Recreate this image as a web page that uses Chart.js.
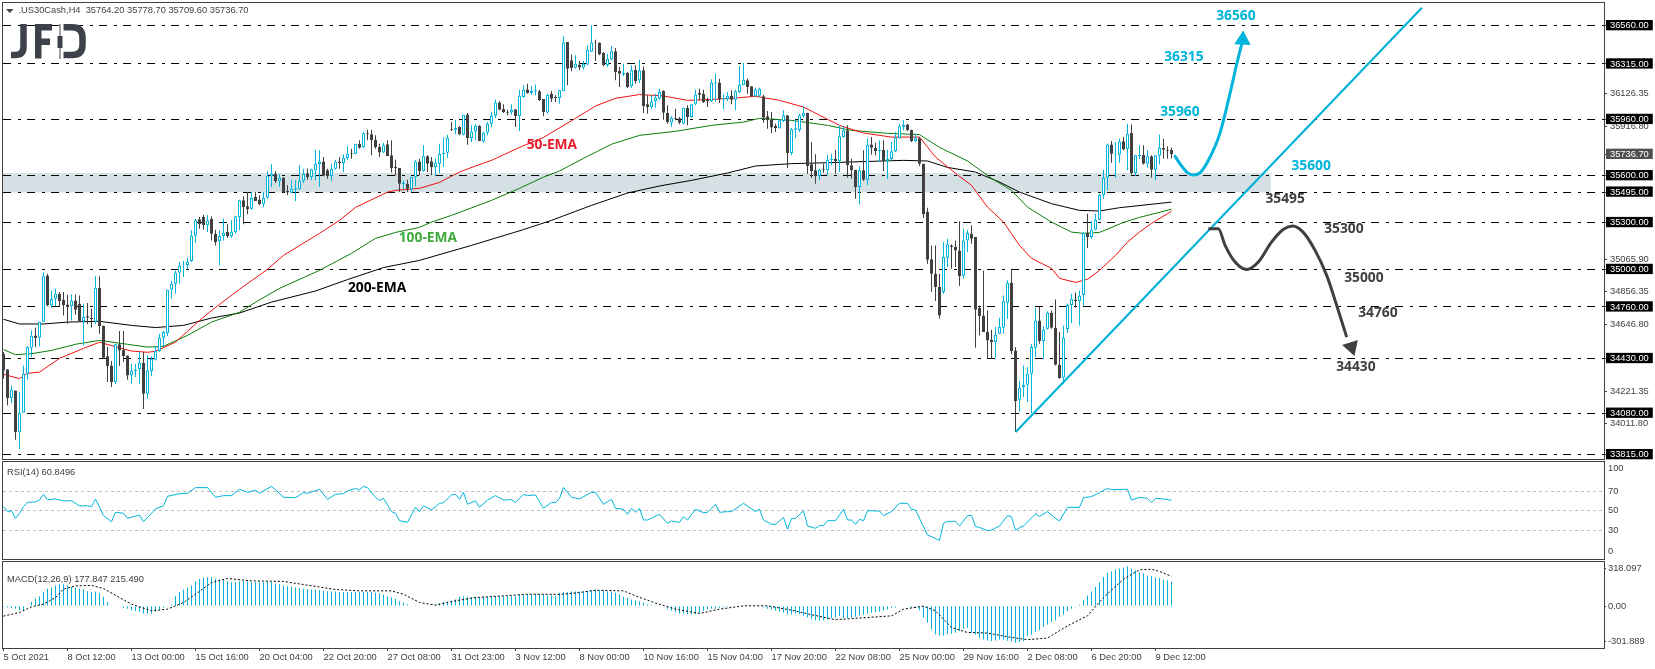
<!DOCTYPE html>
<html><head><meta charset="utf-8">
<script src="https://cdn.jsdelivr.net/npm/chart.js@4"></script>
<style>html,body{margin:0;padding:0;background:#fff;overflow:hidden;width:1655px;height:669px}canvas{position:absolute;left:0;display:block}</style>
</head><body>
<canvas id="price" width="1655" height="460" style="top:0;width:1655px;height:460px"></canvas>
<canvas id="rsi" width="1655" height="100" style="top:460px;width:1655px;height:100px"></canvas>
<canvas id="macd" width="1655" height="109" style="top:560px;width:1655px;height:109px"></canvas>
<script>
const open=[34461,34361,34177,34226,33960,34083,34333,34499,34578,34563,
34666,34962,34770,34813,34845,34806,34776,34764,34802,34781,
34668,34700,34691,34666,34883,34640,34444,34386,34279,34521,
34486,34450,34322,34350,34361,34403,34205,34350,34422,34478,
34563,34593,34870,34909,34979,35028,35028,35054,35216,35321,
35336,35282,35325,35229,35182,35214,35240,35212,35240,35336,
35442,35404,35389,35464,35446,35417,35459,35596,35613,35564,
35587,35504,35491,35510,35513,35568,35615,35591,35634,35675,
35690,35634,35598,35645,35690,35681,35713,35743,35741,35805,
35783,35871,35865,35830,35783,35749,35801,35730,35656,35649,
35545,35549,35513,35591,35690,35628,35724,35692,35656,35677,
35737,35747,35897,35894,35911,35862,35992,35841,35882,35920,
35820,35875,35933,35984,36069,36027,36007,36005,36025,35982,
36103,36152,36129,36138,36140,36091,36005,36125,36103,36097,
36142,36455,36338,36291,36310,36293,36312,36393,36453,36453,
36387,36308,36344,36396,36270,36248,36257,36172,36276,36210,
36274,36057,36039,36076,36093,36142,36003,35939,35971,35967,
35933,36033,35975,36057,36131,36125,36086,36078,36195,36197,
36088,36091,36112,36086,36135,36180,36210,36172,36108,36112,
36108,35980,35958,35918,35905,35950,35986,35745,35894,35892,
35982,36003,35673,35634,35598,35641,35634,35700,35709,35694,
35847,35890,35666,35638,35527,35634,35574,35800,35779,35758,
35766,35694,35707,35756,35841,35911,35928,35894,35820,35839,
35677,35367,35065,34973,34888,34856,35075,35154,35144,35122,
34960,35186,35229,35207,34753,34706,34599,34550,34535,34589,
34627,34787,34915,34482,34166,34247,34262,34333,34499,34674,
34542,34621,34723,34627,34390,34307,34619,34772,34808,34798,
34836,35235,35207,35254,35318,35474,35587,35800,35736,35734,
35820,35771,35873,35617,35726,35734,35677,35724,35638,35728,
35779,35766,35764.2];
const high=[34471,34361,34258,34226,34215,34386,34508,34610,34627,34666,
34981,34973,34866,34877,34855,34855,34840,34840,34840,34834,
34781,34785,34749,34956,34956,34640,34503,34414,34525,34606,
34606,34450,34397,34397,34471,34471,34450,34444,34508,34589,
34606,34870,34926,34994,35047,35054,35075,35250,35325,35336,
35350,35346,35340,35254,35250,35325,35289,35314,35340,35446,
35468,35496,35496,35496,35474,35496,35628,35673,35628,35609,
35591,35538,35570,35570,35666,35645,35645,35645,35766,35762,
35719,35645,35677,35702,35719,35737,35788,35773,35805,35826,
35879,35894,35894,35858,35805,35809,35826,35826,35702,35649,
35570,35574,35591,35698,35709,35794,35730,35719,35709,35805,
35847,35862,35943,35958,35916,35990,36001,35922,35929,35922,
35879,35943,36007,36088,36078,36057,36022,36057,36025,36150,
36178,36189,36172,36184,36150,36091,36125,36142,36114,36150,
36492,36455,36376,36370,36334,36334,36434,36562,36470,36453,
36391,36381,36430,36417,36295,36317,36263,36306,36306,36342,
36300,36114,36114,36125,36157,36146,36050,35980,36029,35975,
36035,36050,36057,36152,36157,36150,36099,36217,36253,36221,
36120,36135,36146,36150,36302,36321,36221,36172,36163,36163,
36118,36014,36007,35933,35958,36018,35986,35905,35958,35997,
36039,36003,35815,35737,35645,35677,35730,35741,35766,35922,
35916,35922,35709,35638,35660,35762,35837,35847,35809,35826,
35826,35766,35815,35879,35933,35954,35933,35894,35869,35847,
35677,35395,35154,35154,34973,35175,35197,35161,35186,35308,
35261,35250,35282,35207,34759,34994,34738,34614,34631,34691,
34834,34930,35005,34503,34286,34386,34375,34525,34753,34759,
34636,34732,34738,34808,34599,34642,34781,34845,34853,34866,
35239,35357,35310,35357,35485,35638,35805,35822,35815,35837,
35847,35933,35928,35734,35794,35794,35762,35730,35730,35864,
35837,35788,35778.7];
const low=[34301,34130,34145,33910,33851,34083,34294,34439,34503,34508,
34666,34764,34755,34764,34759,34706,34653,34674,34710,34668,
34514,34649,34627,34653,34589,34429,34279,34247,34265,34382,
34407,34294,34269,34311,34269,34107,34173,34316,34418,34471,
34503,34572,34813,34845,34909,34951,35005,35047,35169,35261,
35254,35240,35186,35154,35026,35186,35203,35203,35229,35250,
35289,35353,35382,35438,35410,35400,35453,35527,35553,35527,
35491,35474,35489,35438,35510,35553,35574,35570,35570,35527,
35596,35581,35566,35638,35645,35624,35702,35709,35737,35773,
35779,35826,35730,35773,35719,35745,35726,35621,35602,35496,
35517,35496,35496,35532,35602,35624,35624,35602,35598,35617,
35656,35713,35886,35865,35858,35858,35798,35815,35826,35820,
35811,35858,35911,35969,36018,36001,35986,35992,35911,35886,
36099,36125,36118,36114,36078,35980,35997,36071,36071,36061,
36142,36178,36268,36285,36274,36280,36306,36391,36334,36370,
36300,36295,36338,36210,36167,36236,36161,36163,36189,36193,
36001,35997,36029,36035,36086,35958,35933,35911,35954,35929,
35929,35922,35971,36050,36082,36065,36039,36071,36071,36065,
36025,36078,36057,36018,36129,36178,36125,36103,36103,36103,
35939,35901,35873,35879,35901,35943,35649,35730,35839,35879,
35971,35613,35585,35549,35570,35619,35602,35666,35613,35623,
35843,35587,35581,35453,35416,35566,35538,35736,35730,35687,
35628,35579,35698,35751,35837,35890,35886,35815,35815,35664,
35329,35037,34856,34798,34685,34845,35015,35005,35015,34894,
34941,35111,35165,34499,34578,34599,34429,34429,34435,34585,
34589,34685,34457,33960,34092,34184,34152,34081,34439,34525,
34429,34614,34621,34386,34301,34265,34593,34657,34755,34642,
34770,35137,35197,35250,35314,35453,35506,35683,35587,35683,
35762,35634,35608,35596,35709,35672,35651,35587,35570,35672,
35709,35709,35709.6];
const close=[34354,34177,34230,33960,34083,34333,34503,34576,34561,34666,
34956,34770,34813,34845,34798,34772,34759,34800,34742,34668,
34695,34691,34683,34883,34638,34435,34380,34279,34521,34482,
34446,34322,34354,34358,34403,34205,34354,34427,34478,34563,
34599,34870,34909,34981,35024,35032,35050,35216,35314,35289,
35282,35314,35229,35176,35214,35235,35212,35242,35340,35442,
35400,35387,35459,35438,35417,35459,35600,35613,35564,35587,
35496,35493,35517,35519,35568,35613,35591,35641,35677,35690,
35600,35598,35645,35690,35681,35715,35741,35737,35805,35779,
35871,35865,35826,35783,35749,35794,35726,35649,35647,35549,
35553,35517,35591,35690,35628,35724,35677,35656,35685,35741,
35747,35843,35890,35907,35865,35990,35841,35882,35920,35822,
35875,35933,35984,36069,36022,36007,36003,36022,35982,36112,
36150,36129,36142,36146,36082,36007,36118,36093,36097,36146,
36453,36285,36289,36317,36293,36317,36406,36453,36449,36376,
36306,36349,36396,36263,36253,36257,36167,36274,36204,36274,
36046,36039,36074,36099,36135,36003,35943,35971,35965,35939,
36035,35975,36057,36120,36118,36071,36076,36197,36199,36088,
36095,36112,36086,36140,36184,36214,36167,36108,36152,36157,
35971,35954,35909,35905,35954,35986,35745,35897,35903,35986,
36003,35662,35630,35598,35638,35634,35702,35707,35692,35852,
35890,35666,35634,35527,35634,35574,35798,35779,35758,35766,
35694,35707,35756,35845,35916,35926,35890,35822,35839,35677,
35353,35062,34973,34888,34706,35080,35161,35144,35122,34956,
35186,35233,35197,34742,34702,34599,34546,34535,34582,34631,
34796,34915,34478,34158,34243,34262,34333,34503,34674,34542,
34614,34723,34627,34390,34305,34563,34772,34813,34798,34832,
35235,35207,35254,35318,35480,35587,35800,35741,35741,35818,
35768,35869,35617,35730,35734,35677,35724,35638,35730,35779,
35766,35760,35736.7];

const ema50Bars=[0,4,6,9,14,20,24,32,36,38,43,49,53,59,66,70,79,84,88,96,98,104,109,114,118,122,129,135,143,148,153,159,165,171,177,182,188,194,200,206,209,215,222,229,233,238,242,246,250,254,257,262,264,268,271,274,278,281,284,287,292];
const ema50=[34329,34301,34335,34343,34431,34495,34534,34478,34470,34476,34535,34674,34757,34873,35001,35090,35231,35314,35397,35495,35506,35519,35557,35623,35662,35698,35781,35845,35967,36046,36095,36119,36110,36082,36088,36095,36108,36082,36039,35961,35922,35873,35847,35847,35719,35615,35538,35399,35303,35154,35071,35007,34943,34917,34937,34994,35090,35175,35239,35295,35372];
const ema100Bars=[0,3,7,12,18,24,31,36,40,46,52,59,63,69,79,87,93,98,104,107,112,122,129,135,139,145,152,159,168,177,185,189,197,206,212,221,229,234,241,247,252,256,262,267,270,274,280,284,292];
const ema100=[34487,34455,34461,34482,34521,34546,34521,34503,34508,34578,34663,34726,34790,34879,34994,35103,35199,35237,35269,35303,35346,35442,35519,35591,35630,35711,35801,35858,35884,35922,35943,35967,35954,35922,35890,35871,35863,35781,35694,35583,35506,35399,35303,35239,35231,35237,35301,35333,35385];
const ema200Bars=[0,4,10,16,24,32,38,45,52,59,67,78,86,95,104,117,130,137,147,156,164,172,181,188,197,206,225,231,236,243,249,254,262,269,274,279,292];
const ema200=[34681,34651,34651,34663,34668,34642,34628,34642,34689,34721,34791,34862,34935,35012,35058,35154,35255,35314,35410,35489,35534,35570,35617,35662,35677,35683,35698,35694,35653,35623,35559,35495,35421,35378,35374,35395,35431];

const rsiBars=[0,1,2,3,4,5,6,8,9,10,11,13,15,17,19,21,22,23,25,27,28,30,31,34,35,37,38,40,41,44,46,48,51,53,55,57,59,61,63,64,67,68,70,73,75,76,79,81,83,85,86,88,89,90,91,93,94,95,97,98,99,101,103,104,105,107,109,110,112,113,114,115,116,118,119,121,123,125,127,128,130,131,133,135,137,138,139,140,142,144,147,148,150,152,153,155,156,157,158,159,160,161,164,166,167,169,170,171,173,175,176,178,179,181,182,185,188,189,190,192,193,195,196,197,198,200,201,203,204,205,206,208,210,211,212,213,214,215,216,219,220,222,224,226,227,228,231,232,234,235,236,238,239,241,242,243,244,246,247,249,251,252,253,254,255,258,259,261,263,264,266,269,270,272,274,276,277,281,282,284,286,287,288,290,292];
const rsiValues=[54.3,49.2,50.2,42.3,47.5,54.3,58.7,59.1,61.1,66.9,61.5,62.2,60.1,60.4,55,55.3,54.3,62.2,45.1,38.9,48.5,47.5,42.3,45.7,38.9,47.5,51.9,55.3,64.9,67.6,68,73.8,73.8,63.9,65.6,65.6,72.1,69,71,68,75.1,71.7,63.9,63.5,68.7,68,72.1,61.8,66.9,67.6,70.4,73.1,71.4,75.1,73.8,63.9,60.4,62.8,49.2,47.5,39.9,38.2,53.6,49.2,55.3,50.9,57.7,58.4,66.3,66.9,61.8,69,56.7,60.4,53.6,61.1,65.6,61.1,61.5,58.7,66.9,65.6,66.3,52.6,58.7,58.4,62.8,74.1,63.9,62.2,69,69,56.7,61.8,52.6,51.6,46.4,52.6,48.5,52.6,40.6,40.6,46.4,37.2,39.6,38.2,44,40.6,51.6,48.1,48.5,56.7,48.5,49.2,49.2,57.7,49.2,51.6,40.6,36.2,36.2,43.3,31,42.3,42.3,49.8,34.5,32.1,34.8,34.8,39.9,39.9,51.6,40.6,40.6,36.2,41.3,39.9,50.2,49.8,45.1,49.2,57.7,57.7,51.6,50.9,25.2,23.5,19.7,37.2,39.2,39.2,34.5,45.1,45.4,33.8,33.1,29.7,30.3,34.5,45.1,44,30,32.7,34.5,46.8,44.4,49.2,42.3,39.6,53.6,53.6,63.5,64.6,68.7,73.1,71.7,72.1,61.1,63.9,62.8,58.7,62.8,62.2,60.85];

const macdHist=[-7,-10,-14,-19,-29,-34,5,29,53,72,101,125,134,149,158,158,149,139,132,125,120,108,101,106,96,67,29,7,5,0,-12,-19,-29,-36,-43,-53,-55,-53,-38,-24,-12,0,12,72,101,120,132,149,180,197,204,209,209,197,192,187,180,173,173,178,182,178,173,173,173,173,178,173,163,158,149,144,139,134,130,125,120,120,120,115,110,108,106,106,101,101,101,101,101,101,101,101,101,96,91,82,72,62,53,36,24,14,5,2,2,0,5,5,10,19,29,34,38,48,67,72,67,65,67,62,67,67,72,72,72,72,72,72,72,82,82,86,86,86,86,82,77,77,72,
96,101,101,106,106,108,108,110,115,120,115,113,108,106,96,84,67,58,48,43,34,24,14,10,7,5,-2,-19,-34,-43,-53,-53,-58,-58,-58,-48,-34,-24,-19,-19,-12,-10,-7,-5,-2,0,0,0,0,0,-5,-10,-19,-24,-34,-38,-48,-58,-58,-53,-58,-67,-82,-91,-101,-106,-101,-96,-86,-82,-72,-86,-86,-82,-77,-67,-62,-53,-48,-43,-38,-34,-24,-14,-10,-5,-2,-5,-10,-14,-29,-84,-120,-168,-204,-211,-211,-202,-197,-192,-178,-163,-156,-192,-204,-228,-240,-247,-252,-247,-240,-240,-250,-254,-264,-259,-252,-216,-204,-187,-173,-149,-132,-115,-101,-77,-60,-36,-19,-5,10,43,77,106,139,173,211,240,250,264,271,276,288,269,259,245,235,221,216,206,202,192,187,178];
const signalBars=[0,4,7,10,13,15,18,22,25,29,32,37,41,45,48,52,56,62,70,76,83,89,97,100,104,108,113,118,124,131,139,144,148,155,158,163,168,174,179,185,191,197,202,208,216,222,225,230,233,237,241,246,251,256,261,266,271,275,280,284,287,289,292];
const signalValues=[-72,-46,-5,14,62,122,146,149,127,62,14,-34,-22,26,86,170,199,182,178,151,120,110,110,86,26,7,38,62,72,86,84,98,115,110,74,22,-22,-53,-22,2,2,-29,-62,-98,-82,-70,-22,0,-34,-154,-190,-194,-221,-242,-230,-142,-70,62,194,262,266,250,215];

const levels=[36560,36315,35960,35600,35495,35300,35000,34760,34430,34080,33815];
const scaleTicks=[36126.35,35916.80,35065.90,34856.35,34646.80,34221.35,34011.80];
const lastPrice=35736.70;
const timeLabels=["5 Oct 2021","8 Oct 12:00","13 Oct 00:00","15 Oct 16:00","20 Oct 04:00","22 Oct 20:00","27 Oct 08:00","31 Oct 23:00","3 Nov 12:00","8 Nov 00:00","10 Nov 16:00","15 Nov 04:00","17 Nov 20:00","22 Nov 08:00","25 Nov 00:00","29 Nov 16:00","2 Dec 08:00","6 Dec 20:00","9 Dec 12:00"];
const timeLabelStep=16;
const rsiLevels=[70,50,30];
const rsiTickAt=[94,70,50,30,8];
const rsiTickText=["100","70","50","30","0"];
const macdTickAt=[272.7,0,-256.5];
const macdTickText=["318.097","0.00","-301.889"];
const zoneTop=35617, zoneBottom=35493, zoneEndBar=316.8;
const trendBars=[253.05,354.6], trendPrices=[33960,36675];
const upBars=[292.9,294.4,295.9,297.4,299.1,301.1,304.1,307,308.4,309.6];
const upPrices=[35724,35666,35621,35604,35618,35692,35871,36167,36325,36447];
const upTipBar=[309.8], upTipPrice=[36469];
const downBars=[301.2,303.7,305.4,307.9,310.8,313.7,317,320,322.3,324.9,327.9,330.8,333.3,335.8];
const downPrices=[35261,35261,35154,35047,34999,35047,35175,35257,35278,35239,35122,34962,34770,34567];
const downTipBar=[337], downTipPrice=[34504];
const CYAN='#00b4dc', DARK='#404040', GREY='#404040';
const labelNotes=[
 ["36560",308.1,36620,CYAN],["36315",295.1,36360,CYAN],["35960",294.1,36005,CYAN],["35600",326.9,35660,CYAN],
 ["35495",320.4,35449,DARK],["35300",335.1,35257,DARK],["35000",340.1,34945,DARK],["34760",343.6,34721,DARK],["34430",338.1,34374,DARK],
 ["50-EMA",137.1,35794,'#e81c2e'],["100-EMA",106.1,35202,'#3cab3c'],["200-EMA",93.4,34879,'#000000']
];

const X_MIN=-0.125, X_MAX=400.125;
const tickFont={family:'"Liberation Sans"',size:9.3,lineHeight:1};
const pairs=(xs,ys)=>xs.map((x,i)=>({x,y:ys[i]}));
const bars=open.map((_,i)=>i);
const isUp=i=>close[i]>=open[i];
const candleColor=bars.map(i=>isUp(i)?CYAN:DARK);
const bodyFill=bars.map(i=>isUp(i)?'#ffffff':DARK);

function frame(chart){
  const a=chart.chartArea,c=chart.ctx;
  c.save();c.strokeStyle='#404040';c.lineWidth=1;
  c.strokeRect(a.left-0.5,a.top-0.5,a.right-a.left+1,a.bottom-a.top+1);c.restore();
}
function label(chart,text,x,y){
  const c=chart.ctx;c.save();c.font='9.3px "Liberation Sans"';c.fillStyle=GREY;c.textBaseline='middle';c.textAlign='left';c.fillText(text,x,y);c.restore();
}
function fixAxis(s){
  s.paddingTop=0;s.paddingBottom=0;s.paddingLeft=0;s.paddingRight=0;
  if(s.axis==='y')s.width=51; else s.height=21;
}
const lineDs=(data,color,width,order,extra)=>Object.assign({type:'line',data,borderColor:color,borderWidth:width,pointRadius:0,order,tension:0},extra||{});

const common={responsive:false,animation:false,devicePixelRatio:1,events:[],plugins:{legend:{display:false},tooltip:{enabled:false}}};
const xHidden={type:'linear',display:false,min:X_MIN,max:X_MAX,offset:false,grid:{offset:false,display:false}};

new Chart(document.getElementById('price'),{
 type:'bar',
 data:{datasets:[
  lineDs(pairs(ema200Bars,ema200),'#000000',1,12),
  lineDs(pairs(ema100Bars,ema100),'#0a7d0a',1,11),
  lineDs(pairs(ema50Bars,ema50),'#f01010',1,10),
  {label:'wick',data:bars.map(i=>({x:i,y:[low[i],high[i]]})),backgroundColor:candleColor,borderWidth:0,grouped:false,barPercentage:1,maxBarThickness:1,inflateAmount:0,order:6},
  {label:'body',data:bars.map(i=>({x:i,y:[open[i],close[i]]})),backgroundColor:bodyFill,borderColor:candleColor,borderWidth:1,borderSkipped:false,grouped:false,barPercentage:1,maxBarThickness:3,inflateAmount:0,order:5},
  lineDs(pairs(trendBars,trendPrices),'#00b0d8',2.1,3),
  lineDs(pairs(upBars,upPrices),CYAN,3,2,{cubicInterpolationMode:'monotone',borderCapStyle:'round'}),
  lineDs(pairs(downBars,downPrices),DARK,3,2,{cubicInterpolationMode:'monotone',borderCapStyle:'butt'}),
  {type:'line',showLine:false,data:pairs(upTipBar,upTipPrice),pointStyle:'triangle',pointRadius:9.5,pointRotation:3,pointBackgroundColor:CYAN,pointBorderWidth:0,order:1},
  {type:'line',showLine:false,data:pairs(downTipBar,downTipPrice),pointStyle:'triangle',pointRadius:9.5,pointRotation:162,pointBackgroundColor:DARK,pointBorderWidth:0,order:1}
 ]},
 options:Object.assign({},common,{
  layout:{autoPadding:false,padding:{left:3,top:3,bottom:1,right:0}},
  scales:{
   x:xHidden,
   y:{position:'right',min:33787,max:36705,afterFit:fixAxis,
    afterBuildTicks:s=>{s.ticks=[...scaleTicks,lastPrice,...levels].map(value=>({value}))},
    border:{display:false,dash:[8,7,3,6]},
    grid:{color:c=>levels.includes(c.tick&&c.tick.value)?'#000000':'rgba(0,0,0,0)',tickColor:'#404040',tickLength:3,lineWidth:1},
    ticks:{autoSkip:false,padding:3,crossAlign:'near',font:tickFont,
     callback:v=>Number(v).toFixed(2),
     color:c=>(levels.includes(c.tick.value)||c.tick.value===lastPrice)?'#ffffff':GREY,
     showLabelBackdrop:c=>(levels.includes(c.tick.value)||c.tick.value===lastPrice),
     backdropColor:c=>c.tick.value===lastPrice?'#505050':'#000000',
     backdropPadding:{left:4,right:4,top:1,bottom:0}}
   }
  }
 }),
 plugins:[{
  id:'zone',
  beforeDraw(chart){
   const {x,y}=chart.scales,a=chart.chartArea,c=chart.ctx;
   const t=y.getPixelForValue(zoneTop),b=y.getPixelForValue(zoneBottom);
   c.save();c.fillStyle='#d4e0e3';c.fillRect(a.left,t,x.getPixelForValue(zoneEndBar)-a.left,b-t);c.restore();
  },
  afterDraw(chart){
   frame(chart);
   const {x,y}=chart.scales,c=chart.ctx;
   c.save();
   c.font='bold 13.8px "Open Sans"';c.textAlign='center';c.textBaseline='middle';
   labelNotes.forEach(([t,i,p,col])=>{c.fillStyle=col;c.fillText(t,x.getPixelForValue(i),y.getPixelForValue(p))});
   c.fillStyle='#404040';c.beginPath();c.moveTo(6,9);c.lineTo(13.5,9);c.lineTo(9.75,13);c.closePath();c.fill();
   const m='#3d424a';c.strokeStyle=m;c.fillStyle=m;c.lineWidth=6.5;c.lineCap='butt';
   c.beginPath();c.moveTo(23.5,24);c.lineTo(23.5,47);c.quadraticCurveTo(23.5,55,15,55);c.lineTo(11,55);c.stroke();
   c.fillRect(35,24,6.5,34.5);c.fillRect(35,24,17,6.5);c.fillRect(35,38.5,15,6.5);
   c.beginPath();c.moveTo(63.5,27.3);c.lineTo(72,27.3);c.quadraticCurveTo(82.5,27.3,82.5,38);c.lineTo(82.5,45);c.quadraticCurveTo(82.5,55,72,55);c.lineTo(63.5,55);c.stroke();
   c.fillRect(59.5,24,1,35);c.fillRect(57.5,36,5,12);
   c.restore();
   label(chart,'.US30Cash,H4  35764.20 35778.70 35709.60 35736.70',18.5,10.5);
  }
 }]
});

new Chart(document.getElementById('rsi'),{
 type:'line',
 data:{datasets:[lineDs(pairs(rsiBars,rsiValues),'#00b4dc',1,1)]},
 options:Object.assign({},common,{
  layout:{autoPadding:false,padding:{left:3,top:2,bottom:1,right:0}},
  scales:{
   x:xHidden,
   y:{position:'right',min:0.6,max:100.1,afterFit:fixAxis,
    afterBuildTicks:s=>{s.ticks=rsiTickAt.map(value=>({value}))},
    border:{display:false,dash:[3,3]},
    grid:{color:c=>rsiLevels.includes(c.tick&&c.tick.value)?'#c0c0c0':'rgba(0,0,0,0)',tickColor:'rgba(0,0,0,0)',tickLength:2},
    ticks:{autoSkip:false,padding:2,crossAlign:'near',font:tickFont,color:GREY,callback:(v,i)=>rsiTickText[i]}
   }
  }
 }),
 plugins:[{id:'rsiFrame',afterDraw(chart){frame(chart);label(chart,'RSI(14) 60.8496',7,12)}}]
});

new Chart(document.getElementById('macd'),{
 type:'bar',
 data:{datasets:[
  {type:'line',data:pairs(signalBars,signalValues),borderColor:'#000000',borderWidth:1,borderDash:[2,2],pointRadius:0,tension:0,order:1},
  {label:'hist',data:bars.map(i=>({x:i,y:macdHist[i]})),backgroundColor:'#00b4dc',borderWidth:0,grouped:false,barPercentage:1,maxBarThickness:1,inflateAmount:0,order:2}
 ]},
 options:Object.assign({},common,{
  layout:{autoPadding:false,padding:{left:3,top:2,bottom:0,right:0}},
  scales:{
   x:{type:'linear',min:X_MIN,max:X_MAX,offset:false,afterFit:fixAxis,
    afterBuildTicks:s=>{s.ticks=timeLabels.map((_,i)=>({value:i*timeLabelStep}))},
    border:{display:false},
    grid:{offset:false,drawOnChartArea:false,tickColor:'#404040',tickLength:3},
    ticks:{autoSkip:false,maxRotation:0,minRotation:0,align:'start',padding:2,font:tickFont,color:GREY,callback:(v,i)=>timeLabels[i]}
   },
   y:{position:'right',min:-301.889,max:318.097,afterFit:fixAxis,
    afterBuildTicks:s=>{s.ticks=macdTickAt.map(value=>({value}))},
    border:{display:false},
    grid:{drawOnChartArea:false,tickColor:'#404040',tickLength:2},
    ticks:{autoSkip:false,padding:2,crossAlign:'near',font:tickFont,color:GREY,callback:(v,i)=>macdTickText[i]}
   }
  }
 }),
 plugins:[{id:'macdFrame',afterDraw(chart){frame(chart);label(chart,'MACD(12,26,9) 177.847 215.490',7,19)}}]
});
</script>
</body></html>
